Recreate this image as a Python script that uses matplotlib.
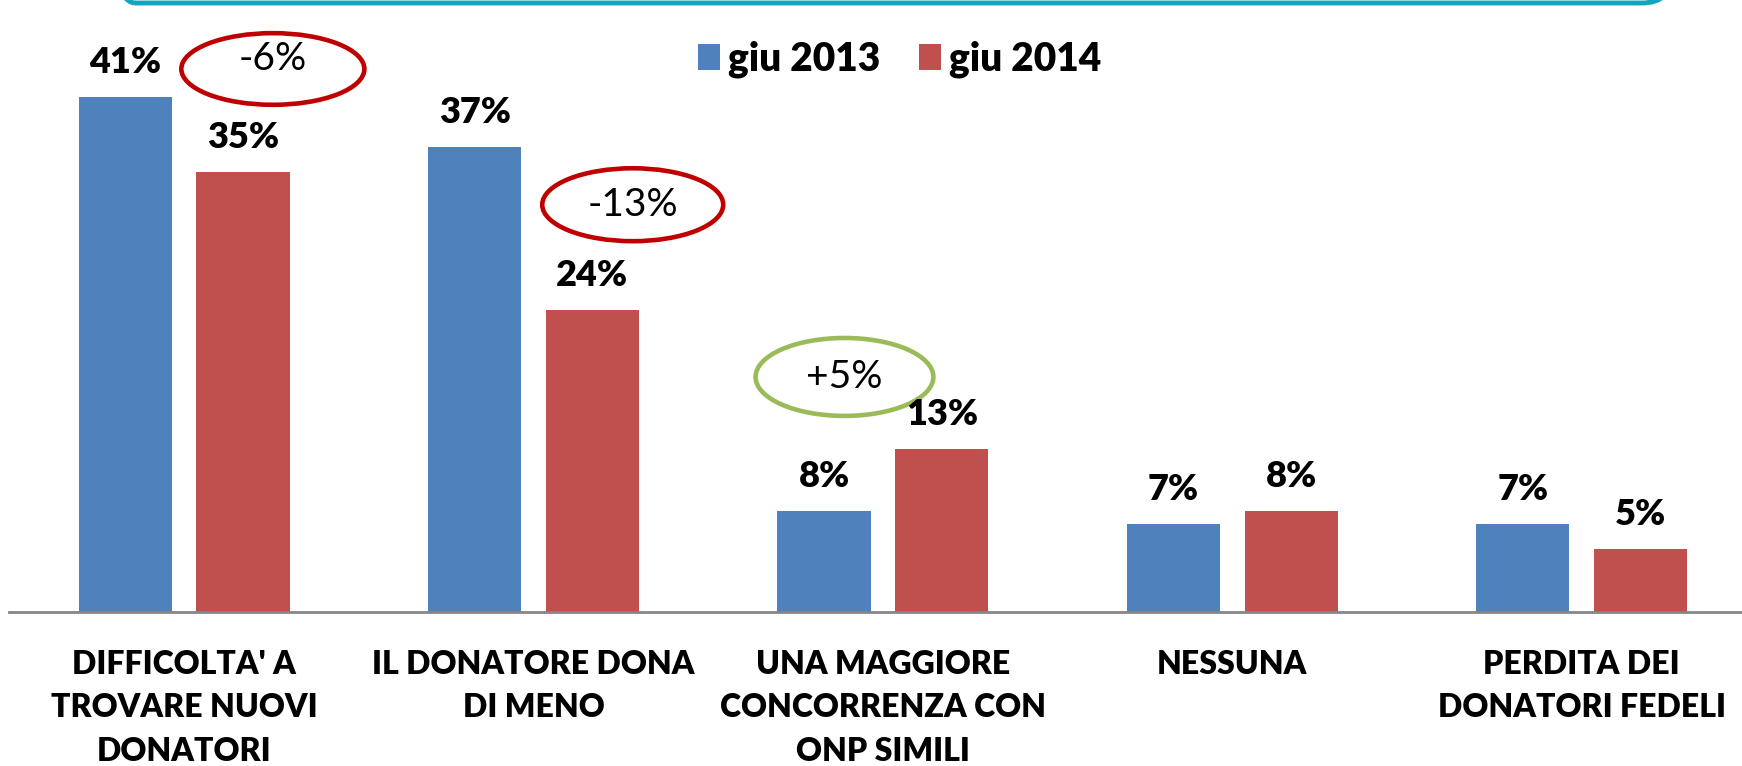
import numpy as np
import matplotlib
matplotlib.use('Agg')
import matplotlib.pyplot as plt
from matplotlib.patches import Ellipse, FancyBboxPatch

plt.rcParams['font.family'] = ['Lato', 'DejaVu Sans']

categories = ["DIFFICOLTA' A\nTROVARE NUOVI\nDONATORI",
              "IL DONATORE DONA\nDI MENO",
              "UNA MAGGIORE\nCONCORRENZA CON\nONP SIMILI",
              "NESSUNA",
              "PERDITA DEI\nDONATORI FEDELI"]
series_labels = ['giu 2013', 'giu 2014']
giu_2013 = [41, 37, 8, 7, 7]
giu_2014 = [35, 24, 13, 8, 5]

# highlighted changes: (text, colour)
changes = [('-6%', '#C00000'), ('-13%', '#C00000'), ('+5%', '#9BBB59')]

W, H = 1742, 766
fig = plt.figure(figsize=(W / 100, H / 100), dpi=100)
px_per_pct = 12.57
ax = fig.add_axes([9.4 / W, 1 - 612 / H, 5 * 349.4 / W, 45 * px_per_pct / H])

x = np.arange(len(categories))
bw = 0.267
off = (bw + 0.07) / 2
b1 = ax.bar(x - off, giu_2013, bw, color='#4F81BD', label=series_labels[0])
b2 = ax.bar(x + off, giu_2014, bw, color='#C0504D', label=series_labels[1])

for bars in (b1, b2):
    for r in bars:
        ax.annotate(f'{r.get_height():.0f}%', (r.get_x() + r.get_width() / 2, r.get_height()),
                    xytext=(0, 13), textcoords='offset points', ha='center', va='bottom',
                    fontsize=26, fontweight='heavy')

# ellipses around the changes (x, y, width, height, text shift)
ell_pos = [(0.254, 43.2, 0.524, 5.7, 0.8), (1.284, 32.4, 0.518, 5.8, 0.0),
           (1.890, 18.7, 0.509, 6.2, 0.0)]
for (txt, clr), (ex, ey, ew, eh, dy) in zip(changes, ell_pos):
    ax.add_patch(Ellipse((ex, ey), ew, eh, fill=False, edgecolor=clr, lw=3.3, clip_on=False))
    ax.text(ex, ey + dy, txt, ha='center', va='center', fontsize=28)

ax.set_xlim(-0.5, 4.5)
ax.set_ylim(0, 45)
for s in ['top', 'right', 'left']:
    ax.spines[s].set_visible(False)
ax.spines['bottom'].set_color('#868686')
ax.spines['bottom'].set_linewidth(2)
ax.set_yticks([])
ax.set_xticks(x)
ax.set_xticklabels(categories, fontsize=23, fontweight='heavy', linespacing=1.62)
ax.tick_params(axis='x', length=0, pad=27)

fig.legend(handles=[b1, b2], loc='center left', bbox_to_anchor=(698 / W, 1 - 59 / H),
           ncol=2, frameon=False, prop={'size': 28, 'weight': 'heavy'},
           borderaxespad=0, borderpad=0,
           handlelength=0.57, handleheight=0.65, handletextpad=0.2, columnspacing=1.0)

# teal frame of the title box above
fig.patches.append(FancyBboxPatch((105 / 100, (H - 3) / 100), (1672 - 105) / 100, 2,
                                  boxstyle='round,pad=0,rounding_size=0.3',
                                  transform=fig.dpi_scale_trans, fill=False,
                                  edgecolor='#12A5BE', lw=3.5, clip_on=False))

fig.savefig('out.png', dpi=100)
